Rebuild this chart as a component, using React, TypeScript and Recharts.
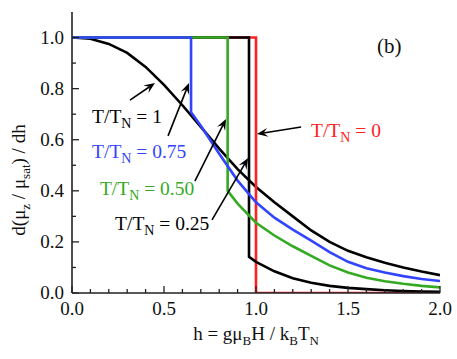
import React from 'react';
import { LineChart, Line, XAxis, YAxis, ReferenceLine, ReferenceDot } from 'recharts';

// ---- data ----
const hT100 = [0, 0.1, 0.2, 0.3, 0.4, 0.5, 0.6, 0.7, 0.8, 0.9, 1.0, 1.1, 1.2, 1.3, 1.4, 1.5, 1.6, 1.7, 1.8, 1.9, 2.0];
const vT100 = [1.0, 0.995, 0.975, 0.94, 0.885, 0.815, 0.735, 0.65, 0.565, 0.485, 0.415, 0.355, 0.3, 0.245, 0.2, 0.165, 0.14, 0.118, 0.1, 0.084, 0.07];

const hT075 = [0, 0.647, 0.647, 0.7, 0.8, 0.9, 1.0, 1.1, 1.2, 1.3, 1.4, 1.5, 1.6, 1.7, 1.8, 1.9, 2.0];
const vT075 = [1, 1, 0.708, 0.655, 0.545, 0.44, 0.355, 0.295, 0.248, 0.205, 0.16, 0.122, 0.097, 0.08, 0.066, 0.055, 0.047];

const hT050 = [0, 0.846, 0.846, 0.9, 1.0, 1.1, 1.2, 1.3, 1.4, 1.5, 1.6, 1.7, 1.8, 1.9, 2.0];
const vT050 = [1, 1, 0.4, 0.35, 0.275, 0.225, 0.183, 0.145, 0.108, 0.08, 0.06, 0.046, 0.036, 0.028, 0.022];

const hT025 = [0, 0.962, 0.962, 1.0, 1.1, 1.2, 1.3, 1.4, 1.5, 1.6, 1.7, 1.8, 1.9, 2.0];
const vT025 = [1, 1, 0.142, 0.122, 0.085, 0.058, 0.04, 0.028, 0.02, 0.015, 0.011, 0.008, 0.006, 0.005];

const hT000 = [0, 1.0, 1.0, 2.0];
const vT000 = [1, 1, 0, 0];

const xTicks = [0, 0.1, 0.2, 0.3, 0.4, 0.5, 0.6, 0.7, 0.8, 0.9, 1.0, 1.1, 1.2, 1.3, 1.4, 1.5, 1.6, 1.7, 1.8, 1.9, 2.0];
const yTicks = [0, 0.1, 0.2, 0.3, 0.4, 0.5, 0.6, 0.7, 0.8, 0.9, 1.0];

// annotation labels: text before subscript, subscript, text after
const labelTexts = [
  { key: 'l0', pre: 'T/T', sub: 'N', post: ' = 0', color: '#ff2020', h: 1.299, v: 0.611 },
  { key: 'l1', pre: 'T/T', sub: 'N', post: ' = 1', color: '#000000', h: 0.109, v: 0.665 },
  { key: 'l75', pre: 'T/T', sub: 'N', post: ' = 0.75', color: '#3344ff', h: 0.109, v: 0.528 },
  { key: 'l50', pre: 'T/T', sub: 'N', post: ' = 0.50', color: '#33aa22', h: 0.152, v: 0.384 },
  { key: 'l25', pre: 'T/T', sub: 'N', post: ' = 0.25', color: '#000000', h: 0.234, v: 0.247 },
];

const arrows = [
  { key: 'a0', from: { x: 1.245, y: 0.65 }, to: { x: 1.005, y: 0.622 } },
  { key: 'a1', from: { x: 0.315, y: 0.755 }, to: { x: 0.451, y: 0.822 } },
  { key: 'a75', from: { x: 0.522, y: 0.615 }, to: { x: 0.636, y: 0.822 } },
  { key: 'a50', from: { x: 0.668, y: 0.438 }, to: { x: 0.837, y: 0.681 } },
  { key: 'a25', from: { x: 0.761, y: 0.286 }, to: { x: 0.957, y: 0.528 } },
];

const zip = (hs: number[], vs: number[]) => hs.map((h, i) => ({ h, v: vs[i] }));

const TXT: React.CSSProperties = { fontFamily: '"Liberation Serif"', whiteSpace: 'pre' };
const AX = '#222';

const isMajor = (v: number, step: number) => Math.abs(v / step - Math.round(v / step)) < 1e-6;

const BottomTick = (p: any) => {
  const v = p.payload.value;
  const major = isMajor(v, 0.5);
  return (
    <g>
      <line x1={p.x} y1={p.y} x2={p.x} y2={p.y - (major ? 7 : 4)} stroke={AX} strokeWidth={1.3} />
      {major && (
        <text x={p.x} y={p.y + 22} textAnchor="middle" style={TXT} fontSize={19} fill="#111">
          {v.toFixed(1)}
        </text>
      )}
    </g>
  );
};
const TopTick = (p: any) => {
  const v = p.payload.value;
  const major = isMajor(v, 0.5);
  return <line x1={p.x} y1={p.y} x2={p.x} y2={p.y + (major ? 7 : 4)} stroke={AX} strokeWidth={1.3} />;
};
const LeftTick = (p: any) => {
  const v = p.payload.value;
  const major = isMajor(v, 0.2);
  return (
    <g>
      <line x1={p.x} y1={p.y} x2={p.x + (major ? 7 : 4)} y2={p.y} stroke={AX} strokeWidth={1.3} />
      {major && (
        <text x={p.x - 8} y={p.y + 6} textAnchor="end" style={TXT} fontSize={19} fill="#111">
          {v.toFixed(1)}
        </text>
      )}
    </g>
  );
};
const RightTick = (p: any) => {
  const v = p.payload.value;
  const major = isMajor(v, 0.2);
  return <line x1={p.x} y1={p.y} x2={p.x - (major ? 7 : 4)} y2={p.y} stroke={AX} strokeWidth={1.3} />;
};

const XLabel = (props: any) => {
  const vb = props.viewBox || { x: 72, y: 293, width: 368, height: 66 };
  const cx = vb.x + vb.width / 2;
  const y = vb.y + 47;
  return (
    <text x={cx} y={y} textAnchor="middle" style={TXT} fontSize={19} fill="#111">
      h = gμ<tspan dy={5} fontSize={13}>B</tspan>
      <tspan dy={-5}>H / k</tspan>
      <tspan dy={5} fontSize={13}>B</tspan>
      <tspan dy={-5}>T</tspan>
      <tspan dy={5} fontSize={13}>N</tspan>
    </text>
  );
};

const YLabel = (props: any) => {
  const vb = props.viewBox || { x: 0, y: 12, width: 72, height: 281 };
  const cx = vb.x + 25;
  const cy = vb.y + 168;
  return (
    <text
      x={cx}
      y={cy}
      transform={`rotate(-90 ${cx} ${cy})`}
      textAnchor="middle"
      style={TXT}
      fontSize={19}
      fill="#111"
    >
      d(μ<tspan dy={5} fontSize={13}>z</tspan>
      <tspan dy={-5}> / μ</tspan>
      <tspan dy={5} fontSize={13}>sat</tspan>
      <tspan dy={-5}>) / dh</tspan>
    </text>
  );
};

const ArrowShape = (p: any) => {
  const { x1, y1, x2, y2 } = p;
  if ([x1, y1, x2, y2].some((n) => typeof n !== 'number' || isNaN(n))) return null;
  const dx = x2 - x1;
  const dy = y2 - y1;
  const len = Math.sqrt(dx * dx + dy * dy);
  const ux = dx / len;
  const uy = dy / len;
  const hl = 11;
  const hw = 4.5;
  const bx = x2 - ux * hl;
  const by = y2 - uy * hl;
  const ix = x2 - ux * hl * 0.6;
  const iy = y2 - uy * hl * 0.6;
  const lx = bx - uy * hw;
  const ly = by + ux * hw;
  const rx = bx + uy * hw;
  const ry = by - ux * hw;
  return (
    <g>
      <line x1={x1} y1={y1} x2={ix} y2={iy} stroke="#000" strokeWidth={1.6} />
      <path d={`M${x2},${y2} L${lx},${ly} L${ix},${iy} L${rx},${ry} Z`} fill="#000" />
    </g>
  );
};

const makeLabelShape = (pre: string, sub: string, post: string, color: string) => (p: any) => {
  if (typeof p.cx !== 'number') return null;
  return (
    <text x={p.cx} y={p.cy} style={TXT} fontSize={19.5} fill={color}>
      {pre}
      <tspan dy={5} fontSize={14}>{sub}</tspan>
      <tspan dy={-5}>{post}</tspan>
    </text>
  );
};

const bShape = (p: any) => {
  if (typeof p.cx !== 'number') return null;
  return (
    <text x={p.cx} y={p.cy} style={TXT} fontSize={21} fill="#111">
      (b)
    </text>
  );
};

export default function App() {
  const series = [
    { key: 's100', data: zip(hT100, vT100), color: '#000000' },
    { key: 's000', data: zip(hT000, vT000), color: '#ff2020' },
    { key: 's025', data: zip(hT025, vT025), color: '#000000' },
    { key: 's050', data: zip(hT050, vT050), color: '#33aa22' },
    { key: 's075', data: zip(hT075, vT075), color: '#3344ff' },
  ];
  return (
    <div style={{ position: 'absolute', left: 0, top: 0, background: '#fff' }}>
      <LineChart width={457} height={359} margin={{ top: 12, right: 17, left: 0, bottom: 0 }}>
        <XAxis
          xAxisId={0}
          type="number"
          dataKey="h"
          domain={[0, 2]}
          ticks={xTicks}
          interval={0}
          allowDataOverflow
          height={66}
          tickSize={0}
          tickMargin={0}
          tickLine={false}
          axisLine={{ stroke: AX, strokeWidth: 1.6 }}
          tick={BottomTick}
          label={{ content: (p: any) => <XLabel {...p} /> }}
        />
        <XAxis
          xAxisId="top"
          orientation="top"
          type="number"
          dataKey="h"
          domain={[0, 2]}
          ticks={xTicks}
          interval={0}
          allowDataOverflow
          height={0}
          tickSize={0}
          tickMargin={0}
          tickLine={false}
          axisLine={{ stroke: AX, strokeWidth: 1.6 }}
          tick={TopTick}
        />
        <YAxis
          yAxisId={0}
          type="number"
          domain={[0, 1.1]}
          ticks={yTicks}
          interval={0}
          allowDataOverflow
          width={72}
          tickSize={0}
          tickMargin={0}
          tickLine={false}
          axisLine={{ stroke: AX, strokeWidth: 1.6 }}
          tick={LeftTick}
          label={{ content: (p: any) => <YLabel {...p} /> }}
        />
        <YAxis
          yAxisId="right"
          orientation="right"
          type="number"
          domain={[0, 1.1]}
          ticks={yTicks}
          interval={0}
          allowDataOverflow
          width={0}
          tickSize={0}
          tickMargin={0}
          tickLine={false}
          axisLine={{ stroke: AX, strokeWidth: 1.6 }}
          tick={RightTick}
        />
        {series.map((s) => (
          <Line
            key={s.key}
            data={s.data}
            dataKey="v"
            type="linear"
            stroke={s.color}
            strokeWidth={2.6}
            dot={false}
            activeDot={false}
            isAnimationActive={false}
          />
        ))}
        {arrows.map((a) => (
          <ReferenceLine key={a.key} segment={[a.from, a.to]} shape={ArrowShape} ifOverflow="visible" />
        ))}
        {labelTexts.map((l) => (
          <ReferenceDot
            key={l.key}
            x={l.h}
            y={l.v}
            r={1}
            ifOverflow="visible"
            shape={makeLabelShape(l.pre, l.sub, l.post, l.color)}
          />
        ))}
        <ReferenceDot x={1.658} y={0.941} r={1} ifOverflow="visible" shape={bShape} />
      </LineChart>
    </div>
  );
}
